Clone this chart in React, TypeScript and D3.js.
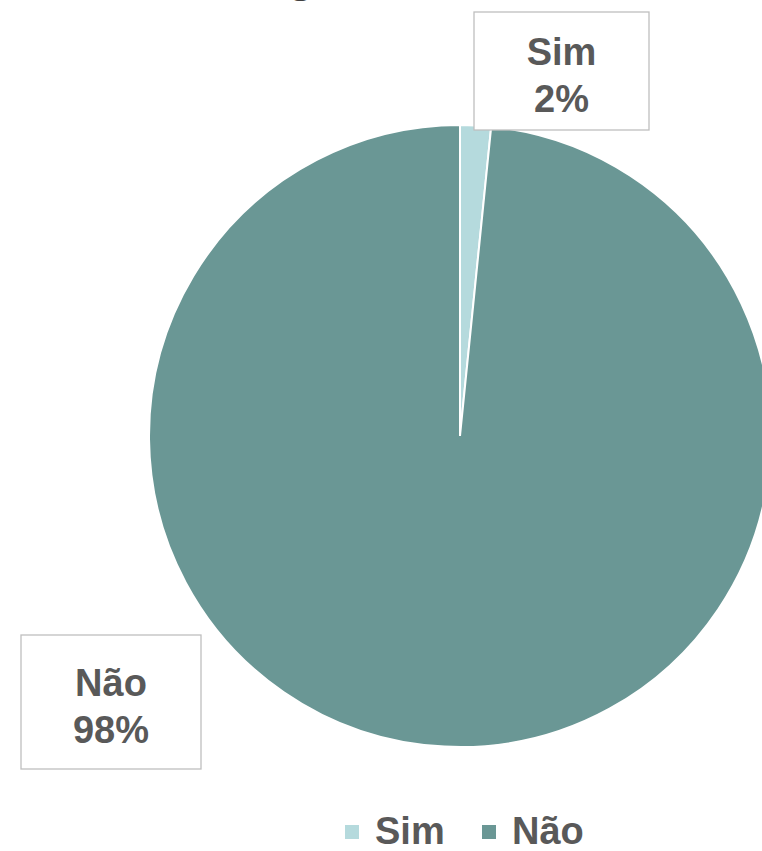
import React, { useEffect, useRef } from 'react'
import * as d3 from 'd3'

const categories = ['Sim', 'Não']
const values = [1.6, 98.4]
const colors = ['#b5dadd', '#6a9795']

const width = 762
const height = 851

const App: React.FC = () => {
    const svgRef = useRef<SVGSVGElement>(null)

    useEffect(() => {
        if (!svgRef.current) return
        const svg = d3.select(svgRef.current)
        svg.selectAll('*').remove()

        const font = '"Liberation Sans", Arial, sans-serif'
        const textColor = '#595959'
        const cx = 460
        const cy = 436
        const radius = 311

        // cropped title, only the descender tail shows
        svg.append('text')
            .attr('x', 301)
            .attr('y', -8)
            .attr('text-anchor', 'middle')
            .style('font-family', font)
            .style('font-weight', 'bold')
            .style('font-size', '44px')
            .style('fill', '#404040')
            .text('g')

        const data = categories.map((c, i) => ({ name: c, value: values[i], color: colors[i] }))
        const pie = d3.pie<typeof data[0]>().value(d => d.value).sort(null)
        const arcs = pie(data)
        const arc = d3.arc<d3.PieArcDatum<typeof data[0]>>().innerRadius(0).outerRadius(radius)

        const g = svg.append('g').attr('transform', `translate(${cx},${cy})`)
        g.selectAll('path')
            .data(arcs)
            .enter().append('path')
            .attr('d', arc)
            .style('fill', d => d.data.color)
            .style('stroke', '#fff')
            .style('stroke-width', 2)

        // data label boxes
        const boxes = [
            { x: 474, y: 12, w: 175, h: 118 },
            { x: 21, y: 635, w: 180, h: 134 },
        ]
        arcs.forEach((a, i) => {
            const b = boxes[i]
            const lg = svg.append('g')
            lg.append('rect')
                .attr('x', b.x).attr('y', b.y)
                .attr('width', b.w).attr('height', b.h)
                .style('fill', '#fff')
                .style('stroke', '#bfbfbf')
                .style('stroke-width', 1.3)
            const mid = b.y + b.h / 2
            const tx = b.x + b.w / 2
            lg.append('text')
                .attr('x', tx).attr('y', mid - 6)
                .attr('text-anchor', 'middle')
                .style('font-family', font).style('font-weight', 'bold').style('font-size', '38px')
                .style('fill', textColor)
                .text(a.data.name)
            lg.append('text')
                .attr('x', tx).attr('y', mid + 41)
                .attr('text-anchor', 'middle')
                .style('font-family', font).style('font-weight', 'bold').style('font-size', '38px')
                .style('fill', textColor)
                .text(`${Math.round(a.data.value)}%`)
        })

        // legend
        const legendX = [345, 482]
        data.forEach((d, i) => {
            svg.append('rect')
                .attr('x', legendX[i]).attr('y', 825)
                .attr('width', 14).attr('height', 14)
                .style('fill', d.color)
            svg.append('text')
                .attr('x', legendX[i] + 30).attr('y', 844)
                .style('font-family', font).style('font-weight', 'bold').style('font-size', '38px')
                .style('fill', textColor)
                .text(d.name)
        })
    }, [])

    return (
        <svg ref={svgRef} width={width} height={height}
            style={{ position: 'absolute', left: 0, top: 0, background: '#fff' }} />
    )
}

export default App
